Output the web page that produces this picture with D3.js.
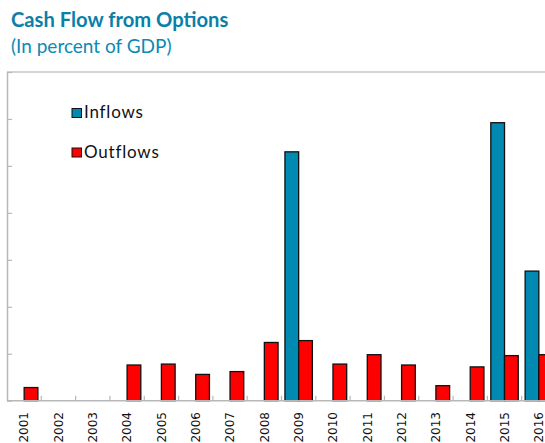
<!DOCTYPE html>
<html>
<head>
<meta charset="utf-8">
<script src="https://cdn.jsdelivr.net/npm/d3@7"></script>
<style>
  html, body { margin: 0; padding: 0; background: #fff; overflow: hidden; }
  svg { display: block; }
</style>
</head>
<body>
<svg id="chart" width="545" height="443"></svg>
<script>
// ---- Data ----
const years = ["2001","2002","2003","2004","2005","2006","2007","2008","2009","2010","2011","2012","2013","2014","2015","2016"];
const inflows  = [0, 0, 0, 0, 0, 0, 0, 0, 2.65, 0, 0, 0, 0, 0, 2.96, 1.38];
const outflows = [0.14, 0, 0, 0.38, 0.39, 0.28, 0.31, 0.62, 0.64, 0.39, 0.49, 0.38, 0.16, 0.36, 0.48, 0.49];
const yTicks = [0, 0.5, 1, 1.5, 2, 2.5, 3, 3.5];
const seriesNames = ["Inflows", "Outflows"];
const seriesColors = ["#0089B1", "#FF0000"];

const svg = d3.select("#chart");
const plotLeft = 7, plotTop = 72, plotBottom = 400.7, plotRight = 556;

const x = d3.scaleBand().domain(years).range([plotLeft, plotRight]).paddingInner(0.2).paddingOuter(0.1);
const xSub = d3.scaleBand().domain(seriesNames).range([0, x.bandwidth()]);
const y = d3.scaleLinear().domain([0, 3.5]).range([plotBottom, plotTop]);

// Title
svg.append("text").attr("x", 11).attr("y", 27)
  .style("font-family", "Lato, 'Open Sans', sans-serif").style("font-weight", "bold")
  .style("font-size", "20.2px").style("fill", "#0A7FA8").text("Cash Flow from Options");
svg.append("text").attr("x", 11).attr("y", 53)
  .style("font-family", "Lato, 'Open Sans', sans-serif")
  .style("font-size", "19px").style("fill", "#0A8AB5").text("(In percent of GDP)");

// Top frame line
svg.append("line").attr("x1", plotLeft).attr("x2", 545).attr("y1", plotTop).attr("y2", plotTop)
  .attr("stroke", "#c6c6c6").attr("stroke-width", 1.5);

// Bars
const data = years.map((yr, i) => ({ year: yr, values: [inflows[i], outflows[i]] }));
const groups = svg.append("g").selectAll("g").data(data).join("g")
  .attr("transform", d => `translate(${x(d.year)},0)`);
groups.selectAll("rect").data(d => d.values.map((v, j) => ({ name: seriesNames[j], v, j })).filter(e => e.v > 0))
  .join("rect")
  .attr("x", e => xSub(e.name))
  .attr("width", xSub.bandwidth())
  .attr("y", e => y(e.v))
  .attr("height", e => y(0) - y(e.v))
  .attr("fill", e => seriesColors[e.j])
  .attr("stroke", "#111").attr("stroke-width", 1.3);

// Y axis (its labels lie outside the cropped picture in the reference, so none are drawn)
const yAxis = svg.append("g").attr("transform", `translate(${plotLeft},0)`)
  .call(d3.axisLeft(y).tickValues(yTicks).tickSizeInner(-5).tickSizeOuter(0).tickFormat(""));
yAxis.select(".domain").attr("stroke", "#b8b8b8").attr("stroke-width", 1.5);
yAxis.selectAll(".tick line").attr("stroke", "#b8b8b8").attr("stroke-width", 1.2);

// X axis baseline and boundary ticks
svg.append("line").attr("x1", plotLeft).attr("x2", 545).attr("y1", plotBottom).attr("y2", plotBottom)
  .attr("stroke", "#b8b8b8").attr("stroke-width", 1.5);
svg.append("g").selectAll("line").data(years.slice(1)).join("line")
  .attr("x1", d => x(d) - x.step() * x.paddingInner() / 2)
  .attr("x2", d => x(d) - x.step() * x.paddingInner() / 2)
  .attr("y1", plotBottom).attr("y2", plotBottom - 5)
  .attr("stroke", "#b8b8b8").attr("stroke-width", 1.2);

// X labels (rotated)
svg.append("g").selectAll("text").data(years).join("text")
  .attr("transform", d => `translate(${x(d) + x.bandwidth() / 2 + 4.3},${plotBottom + 11.3}) rotate(-90)`)
  .attr("text-anchor", "end")
  .style("font-family", "'DejaVu Sans', sans-serif").style("font-size", "12px").style("fill", "#111")
  .text(d => d);

// Legend
const legend = svg.append("g");
seriesNames.forEach((name, i) => {
  const ly = 108.5 + i * 39.5;
  legend.append("rect").attr("x", 72).attr("y", ly).attr("width", 9.5).attr("height", 9)
    .attr("fill", seriesColors[i]).attr("stroke", "#111").attr("stroke-width", 1);
  legend.append("text").attr("x", 84).attr("y", ly + 9.8)
    .style("font-family", "Lato, 'Open Sans', sans-serif").style("font-size", "17px")
    .style("letter-spacing", "0.8px").style("fill", "#111")
    .text(name);
});
</script>
</body>
</html>
